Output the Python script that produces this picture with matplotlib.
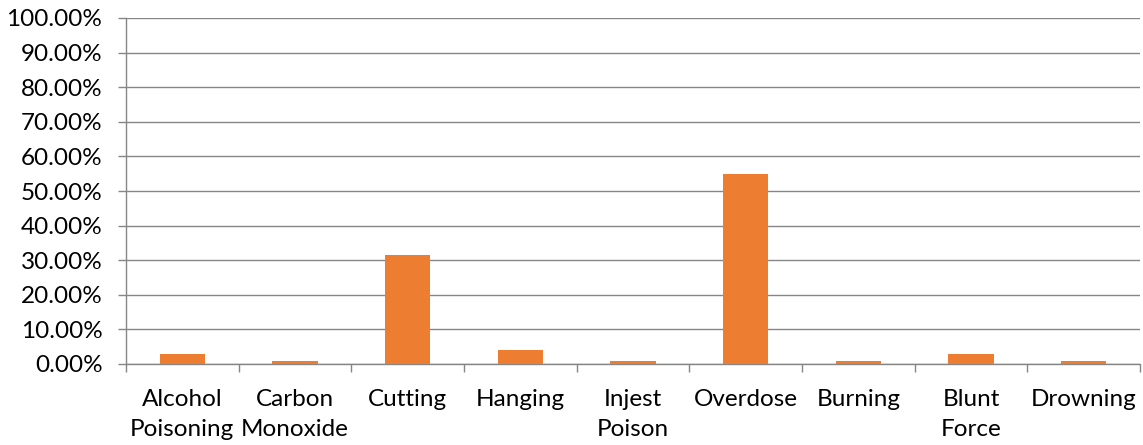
import numpy as np
import matplotlib.pyplot as plt
from matplotlib.ticker import FixedLocator, NullFormatter

categories = ['Alcohol\nPoisoning', 'Carbon\nMonoxide', 'Cutting', 'Hanging',
              'Injest\nPoison', 'Overdose', 'Burning', 'Blunt\nForce', 'Drowning']
values = [2.94, 0.98, 31.37, 3.92, 0.98, 54.90, 0.98, 2.94, 0.98]
y_ticks = [0, 10, 20, 30, 40, 50, 60, 70, 80, 90, 100]

plt.rcParams['font.family'] = ['Lato', 'DejaVu Sans']

fig = plt.figure(figsize=(11.43, 4.45), dpi=100)
ax = fig.add_axes([126 / 1143, 1 - 364 / 445, (1140 - 126) / 1143, (364 - 18) / 445])

x = np.arange(len(categories))
ax.bar(x, values, width=0.4, color='#ED7D31', zorder=3)

grid_c = '#868686'
ax.set_ylim(0, 100)
ax.set_xlim(-0.5, len(categories) - 0.5)
ax.set_yticks(y_ticks)
ax.set_yticklabels([f'{v:.2f}%' for v in y_ticks], fontsize=17.5)
ax.yaxis.grid(True, color=grid_c, linewidth=1, zorder=0)

# category labels centred, tick marks on the boundaries
ax.set_xticks(x)
ax.set_xticklabels(categories, fontsize=17.5, linespacing=1.55)
ax.tick_params(axis='x', which='major', length=0, pad=18)
ax.xaxis.set_minor_locator(FixedLocator(np.arange(-0.5, len(categories), 1)))
ax.xaxis.set_minor_formatter(NullFormatter())
ax.tick_params(axis='x', which='minor', length=6, color=grid_c, width=1)
ax.tick_params(axis='y', length=6, color=grid_c, width=1, pad=11)

for side in ['top', 'right']:
    ax.spines[side].set_visible(False)
for side in ['left', 'bottom']:
    ax.spines[side].set_color(grid_c)
    ax.spines[side].set_linewidth(1)

fig.savefig('out.png', dpi=100)
